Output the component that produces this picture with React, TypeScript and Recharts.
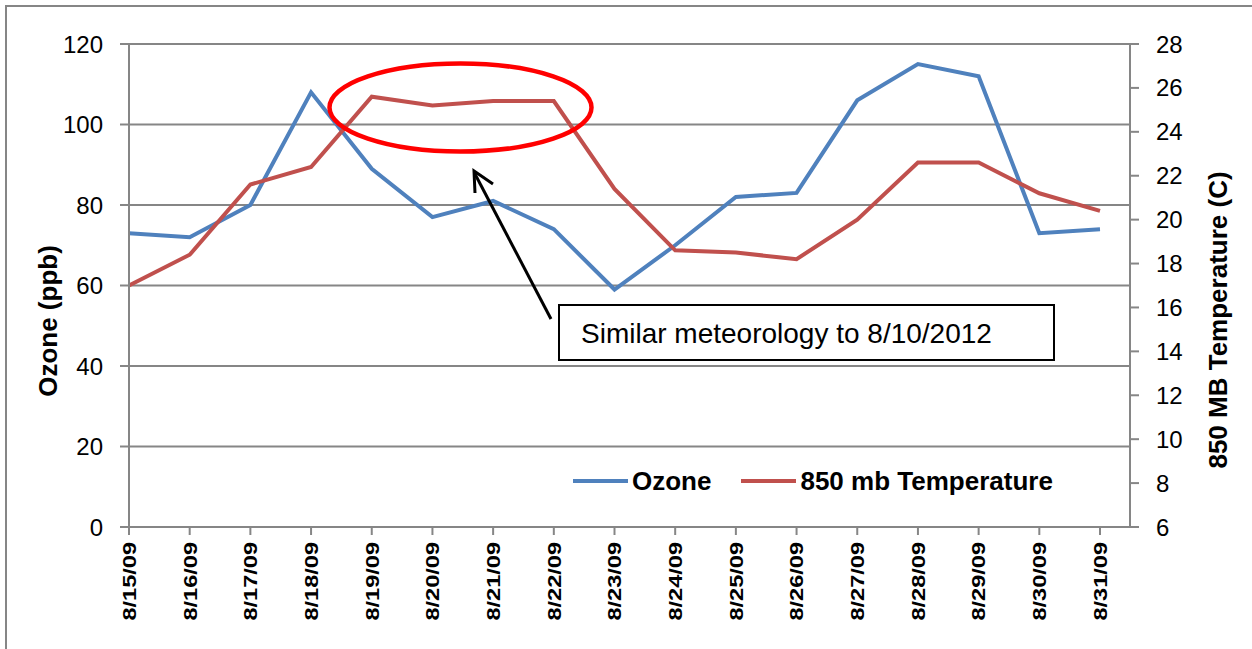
import React from "react"
import { LineChart, Line, XAxis, YAxis, CartesianGrid } from "recharts"

const dates = [
  "8/15/09", "8/16/09", "8/17/09", "8/18/09", "8/19/09", "8/20/09", "8/21/09", "8/22/09", "8/23/09",
  "8/24/09", "8/25/09", "8/26/09", "8/27/09", "8/28/09", "8/29/09", "8/30/09", "8/31/09",
]
const ozone = [73, 72, 80, 108, 89, 77, 81, 74, 59, 70, 82, 83, 106, 115, 112, 73, 74]
const temp850 = [17.0, 18.4, 21.6, 22.4, 25.6, 25.2, 25.4, 25.4, 21.4, 18.6, 18.5, 18.2, 20.0, 22.6, 22.6, 21.2, 20.4]
const ozoneTicks = [0, 20, 40, 60, 80, 100, 120]
const tempTicks = [6, 8, 10, 12, 14, 16, 18, 20, 22, 24, 26, 28]
const seriesNames = ["Ozone", "850 mb Temperature"]
const seriesColors = ["#4F81BD", "#C0504D"]

const AXIS = "#868686"
const FONT = "'Liberation Sans', Arial, sans-serif"

const chartData = dates.map((d, i) => ({ date: d, ozone: ozone[i], temp: temp850[i] }))

function DateTick({ x, y, payload }: any) {
  return (
    <g transform={`translate(${x},${y}) rotate(-90)`}>
      <text
        x={0}
        y={0}
        dy="0.36em"
        textAnchor="end"
        fontFamily={FONT}
        fontWeight="bold"
        fontSize={19}
        fill="#000"
        transform="scale(1.24,1)"
      >
        {payload.value}
      </text>
    </g>
  )
}

function AxisTitle({ px, py, text }: any) {
  return (
    <text
      x={px}
      y={py}
      transform={`rotate(-90 ${px} ${py})`}
      textAnchor="middle"
      dominantBaseline="central"
      fontFamily={FONT}
      fontWeight="bold"
      fontSize={26}
      fill="#000"
    >
      {text}
    </text>
  )
}

function ChartLegend() {
  return (
    <div style={{ position: "absolute", left: 573, top: 466, display: "flex", alignItems: "center", height: 30 }}>
      {seriesNames.map((name, i) => (
        <div key={name} style={{ display: "flex", alignItems: "center", marginLeft: i === 0 ? 0 : 30 }}>
          <svg width={55} height={30}>
            <line x1={0} y1={15} x2={55} y2={15} stroke={seriesColors[i]} strokeWidth={4} />
          </svg>
          <span
            style={{
              marginLeft: 4,
              fontFamily: FONT,
              fontWeight: "bold",
              fontSize: 26,
              lineHeight: "30px",
              color: "#000",
              whiteSpace: "nowrap",
            }}
          >
            {name}
          </span>
        </div>
      ))}
    </div>
  )
}

export default function App() {
  return (
    <div
      style={{
        position: "absolute",
        left: 0,
        top: 0,
        width: 1252,
        height: 649,
        overflow: "hidden",
        background: "#fff",
      }}
    >
      <div
        style={{
          position: "absolute",
          left: 5,
          top: 5,
          width: 1300,
          height: 700,
          border: `2px solid ${AXIS}`,
        }}
      />
      <LineChart
        width={1252}
        height={649}
        data={chartData}
        margin={{ top: 44, right: 0, bottom: 0, left: 0 }}
        style={{ position: "absolute", left: 0, top: 0 }}
      >
        <CartesianGrid vertical={false} yAxisId="left" stroke={AXIS} strokeWidth={2} />
        <XAxis
          dataKey="date"
          height={122}
          interval={0}
          padding={{ left: 0, right: 30 }}
          tick={<DateTick />}
          tickSize={8}
          tickMargin={7}
          axisLine={{ stroke: AXIS, strokeWidth: 2 }}
          tickLine={{ stroke: AXIS, strokeWidth: 2 }}
        />
        <YAxis
          yAxisId="left"
          width={129}
          domain={[0, 120]}
          ticks={ozoneTicks}
          tickSize={9}
          tickMargin={17}
          tick={{ fill: "#000", fontSize: 24, fontFamily: FONT }}
          axisLine={{ stroke: AXIS, strokeWidth: 2 }}
          tickLine={{ stroke: AXIS, strokeWidth: 2 }}
          label={<AxisTitle px={48} py={321} text="Ozone (ppb)" />}
        />
        <YAxis
          yAxisId="right"
          orientation="right"
          width={122}
          domain={[6, 28]}
          ticks={tempTicks}
          tickSize={9}
          tickMargin={17}
          tick={{ fill: "#000", fontSize: 24, fontFamily: FONT }}
          axisLine={{ stroke: AXIS, strokeWidth: 2 }}
          tickLine={{ stroke: AXIS, strokeWidth: 2 }}
          label={<AxisTitle px={1218} py={320} text="850 MB Temperature (C)" />}
        />
        <Line
          yAxisId="left"
          type="linear"
          dataKey="ozone"
          name={seriesNames[0]}
          stroke={seriesColors[0]}
          strokeWidth={4}
          dot={false}
          activeDot={false}
          isAnimationActive={false}
        />
        <Line
          yAxisId="right"
          type="linear"
          dataKey="temp"
          name={seriesNames[1]}
          stroke={seriesColors[1]}
          strokeWidth={4}
          dot={false}
          activeDot={false}
          isAnimationActive={false}
        />
      </LineChart>
      <ChartLegend />
      {/* annotations drawn on top of the chart */}
      <svg
        width={1252}
        height={649}
        style={{ position: "absolute", left: 0, top: 0, pointerEvents: "none" }}
      >
        <ellipse cx={460.5} cy={107.5} rx={131} ry={44} fill="none" stroke="#FF0000" strokeWidth={4.5} />
        <line x1={551} y1={319} x2={475} y2={174} stroke="#000" strokeWidth={3} />
        <polyline points="493,184 474,171 475,193" fill="none" stroke="#000" strokeWidth={3} />
        <rect x={559} y={305} width={495} height={55} fill="#fff" stroke="#000" strokeWidth={2} />
        <text x={581} y={343} fontFamily={FONT} fontSize={28} fill="#000">
          Similar meteorology to 8/10/2012
        </text>
      </svg>
    </div>
  )
}
